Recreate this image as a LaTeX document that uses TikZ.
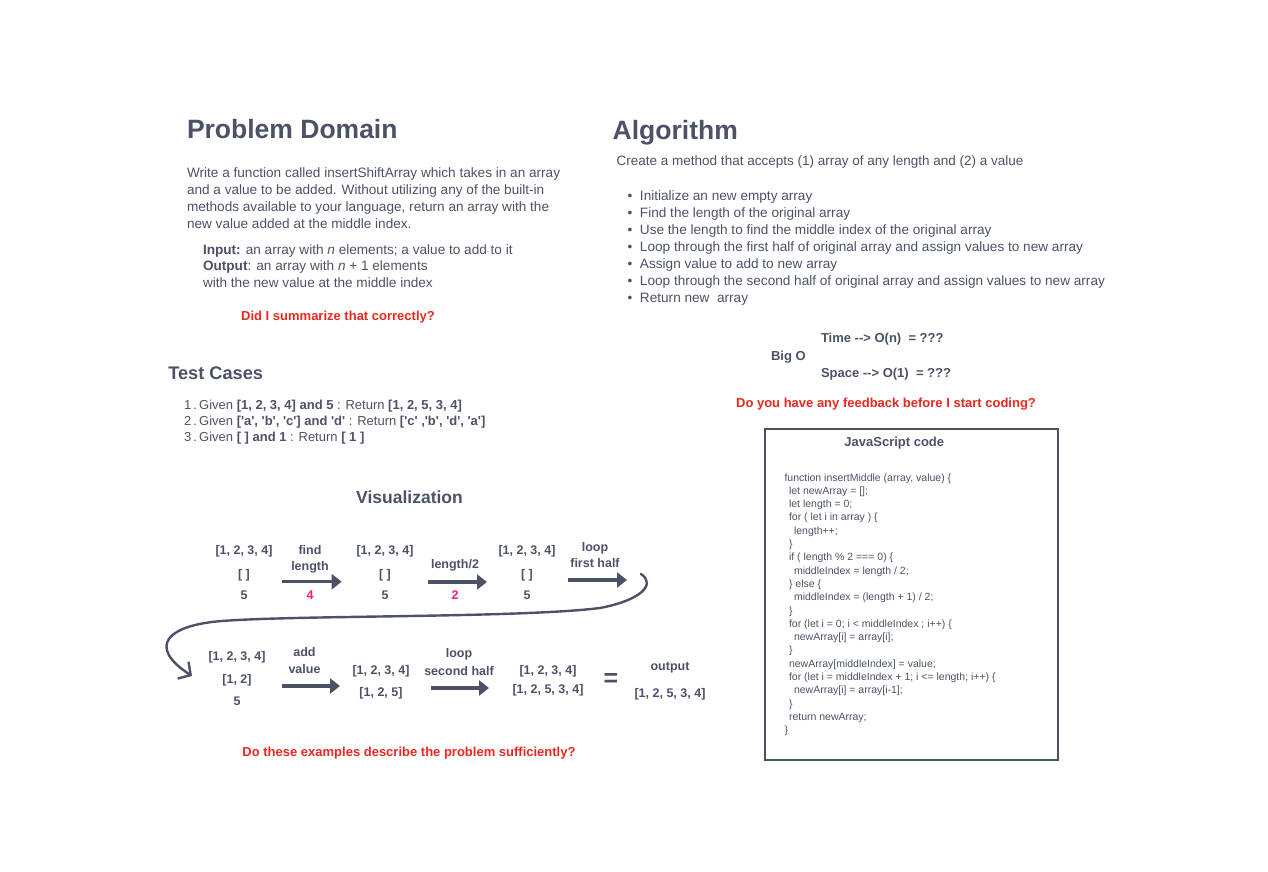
\documentclass[tikz,border=0pt]{standalone}
\usepackage{fontspec}
\setmainfont{Liberation Sans}
\usetikzlibrary{arrows.meta}
\definecolor{ink}{HTML}{4B5266}
\definecolor{alert}{HTML}{E8281E}
\definecolor{hot}{HTML}{F21C70}
\newcommand\myq{\textquotesingle}
\begin{document}
\begin{tikzpicture}[x=1pt,y=-1pt,
  every node/.style={inner sep=0pt, outer sep=0pt, text=ink},
  head/.style={anchor=base west, font=\fontsize{26.5}{30}\selectfont\bfseries},
  body/.style={anchor=base west, font=\fontsize{13.6}{17}\selectfont},
  small/.style={anchor=base west, font=\fontsize{13}{17}\selectfont},
  ask/.style={anchor=base, font=\fontsize{13}{16}\selectfont\bfseries, text=alert},
  val/.style={anchor=base, font=\fontsize{12.5}{15}\selectfont\bfseries},
  flow/.style={draw=ink, line width=3.2pt, -{Triangle[length=10pt,width=15pt]}},
  swoop/.style={draw=ink, line width=2.4pt, line cap=round, -{Straight Barb[length=9pt,width=20pt]}}
]
\useasboundingbox (0,0) rectangle (1268,872);

% ---------- Problem Domain ----------
\node[head] (pdT) at (187,138.3) {Problem Domain};
\foreach \t [count=\i] in {
  {Write a function called insertShiftArray which takes in an array},
  {and a value to be added. Without utilizing any of the built-in},
  {methods available to your language, return an array with the},
  {new value added at the middle index.}}
  \node[body] (pdL\i) at (187,{177+(\i-1)*17}) {\t};
\node[body] (pdIn) at (203,254) {\textbf{Input:} an array with \textit{n} elements; a value to add to it};
\node[body] (pdOut) at (203,270.7) {\textbf{Output}: an array with \textit{n} + 1 elements};
\node[body] (pdOut2) at (203,287) {with the new value at the middle index};
\node[ask] (pdAsk) at (338,320) {Did I summarize that correctly?};

% ---------- Algorithm ----------
\node[head] (alT) at (612.7,139.3) {Algorithm};
\node[anchor=base west, font=\fontsize{13.5}{17}\selectfont] (alC) at (616.7,165.7) {Create a method that accepts (1) array of any length and (2) a value};
\foreach \t [count=\i] in {
  {Initialize an new empty array},
  {Find the length of the original array},
  {Use the length to find the middle index of the original array},
  {Loop through the first half of original array and assign values to new array},
  {Assign value to add to new array},
  {Loop through the second half of original array and assign values to new array},
  {Return new\ \ array}}
  \node[body] (alB\i) at (627.6,{200+(\i-1)*17.1}) {\makebox[12.4pt][l]{\textbullet}\t};
\node[anchor=base west, font=\fontsize{13}{16}\selectfont\bfseries] (bigT) at (821,342.7) {Time {-}{-}> O(n) \ = ???};
\node[anchor=base west, font=\fontsize{13}{16}\selectfont\bfseries] (bigO) at (771,360.7) {Big O};
\node[anchor=base west, font=\fontsize{13}{16}\selectfont\bfseries] (bigS) at (821,377.7) {Space {-}{-}> O(1) \ = ???};
\node[ask] (alAsk) at (886,407.3) {Do you have any feedback before I start coding?};

% ---------- Test Cases ----------
\node[anchor=base west, font=\fontsize{18.2}{22}\selectfont\bfseries] (tcT) at (168.3,379) {Test Cases};
\node[small] (tc1) at (184,409) {1\,.\,Given \textbf{[1, 2, 3, 4] and 5} : Return \textbf{[1, 2, 5, 3, 4]}};
\node[small] (tc2) at (184,425.7) {2\,.\,Given \textbf{[\myq a\myq, \myq b\myq, \myq c\myq] and \myq d\myq} : Return \textbf{[\myq c\myq\ ,\myq b\myq, \myq d\myq, \myq a\myq]}};
\node[small] (tc3) at (184,441.5) {3\,.\,Given \textbf{[ ] and 1} : Return \textbf{[ 1 ]}};

% ---------- Visualization ----------
\node[anchor=base, font=\fontsize{17.5}{20}\selectfont\bfseries] (vT) at (409.5,503.3) {Visualization};

% row 1
\node[val] (r1a1) at (244,554) {[1, 2, 3, 4]};
\node[val] (r1a2) at (244,578.3) {[ ]};
\node[val] (r1a3) at (244,599.3) {5};
\node[val] (f1) at (310,554) {find};
\node[val] (f2) at (310,570.7) {length};
\node[val, text=hot] (f3) at (310,599.3) {4};
\node[val] (r1b1) at (385,554) {[1, 2, 3, 4]};
\node[val] (r1b2) at (385,578.3) {[ ]};
\node[val] (r1b3) at (385,599.3) {5};
\node[val] (h1) at (455,568.3) {length/2};
\node[val, text=hot] (h2) at (455,599.3) {2};
\node[val] (r1c1) at (527,554) {[1, 2, 3, 4]};
\node[val] (r1c2) at (527,578.3) {[ ]};
\node[val] (r1c3) at (527,599.3) {5};
\node[val] (p1) at (595,551.7) {loop};
\node[val] (p2) at (595,567.3) {first half};

\coordinate (a1s) at (281.7,581.7); \coordinate (a1e) at (341.7,581.7);
\coordinate (a2s) at (428,582);     \coordinate (a2e) at (487,582);
\coordinate (a3s) at (568,580);     \coordinate (a3e) at (627,580);
\draw[flow] (a1s) -- (a1e);
\draw[flow] (a2s) -- (a2e);
\draw[flow] (a3s) -- (a3e);

% curve from row 1 to row 2
\coordinate (cs) at (641,574);
\coordinate (ce) at (192,676);
\draw[swoop] (cs) .. controls (656,584) and (642,600) .. (600,608)
  .. controls (520,618) and (300,615) .. (222,621)
  .. controls (168,625) and (146,646) .. (ce);

% row 2
\node[val] (r2a1) at (237,660.7) {[1, 2, 3, 4]};
\node[val] (r2a2) at (237,683.3) {[1, 2]};
\node[val] (r2a3) at (237,705) {5};
\node[val] (v1) at (304.5,656.7) {add};
\node[val] (v2) at (304.5,673.3) {value};
\node[val] (r2b1) at (381,674) {[1, 2, 3, 4]};
\node[val] (r2b2) at (381,696) {[1, 2, 5]};
\node[val] (s1) at (459,657.3) {loop};
\node[val] (s2) at (459,675) {second half};
\node[val] (r2c1) at (548,674) {[1, 2, 3, 4]};
\node[val] (r2c2) at (548,693.3) {[1, 2, 5, 3, 4]};
\node[font=\fontsize{25}{26}\selectfont\bfseries] (eq) at (611,680) {=};
\node[val] (o1) at (670,670.7) {output};
\node[val] (o2) at (670,697.3) {[1, 2, 5, 3, 4]};

\coordinate (b1s) at (281.6,686); \coordinate (b1e) at (340,686);
\coordinate (b2s) at (431,688);   \coordinate (b2e) at (489,688);
\draw[flow] (b1s) -- (b1e);
\draw[flow] (b2s) -- (b2e);

\node[ask] (vAsk) at (409,756.7) {Do these examples describe the problem sufficiently?};

% ---------- JavaScript code ----------
\draw[ink, line width=2pt] (764.5,428.5) rectangle (1057.5,759.5);
\node[anchor=base, font=\fontsize{13}{16}\selectfont\bfseries] (jsT) at (894.3,446.7) {JavaScript code};
\node[anchor=north west, align=left, font=\fontsize{10.5}{13.3}\selectfont] (code) at (784.5,473.4) {%
function insertMiddle (array, value) \{\\
\hspace*{4.5pt}let newArray = [];\\
\hspace*{4.5pt}let length = 0;\\
\hspace*{4.5pt}for ( let i in array ) \{\\
\hspace*{9.5pt}length++;\\
\hspace*{4.5pt}\}\\
\hspace*{4.5pt}if ( length \% 2 === 0) \{\\
\hspace*{9.5pt}middleIndex = length / 2;\\
\hspace*{4.5pt}\} else \{\\
\hspace*{9.5pt}middleIndex = (length + 1) / 2;\\
\hspace*{4.5pt}\}\\
\hspace*{4.5pt}for (let i = 0; i < middleIndex ; i++) \{\\
\hspace*{9.5pt}newArray[i] = array[i];\\
\hspace*{4.5pt}\}\\
\hspace*{4.5pt}newArray[middleIndex] = value;\\
\hspace*{4.5pt}for (let i = middleIndex + 1; i <= length; i++) \{\\
\hspace*{9.5pt}newArray[i] = array[i-1];\\
\hspace*{4.5pt}\}\\
\hspace*{4.5pt}return newArray;\\
\}};
\end{tikzpicture}
\end{document}
